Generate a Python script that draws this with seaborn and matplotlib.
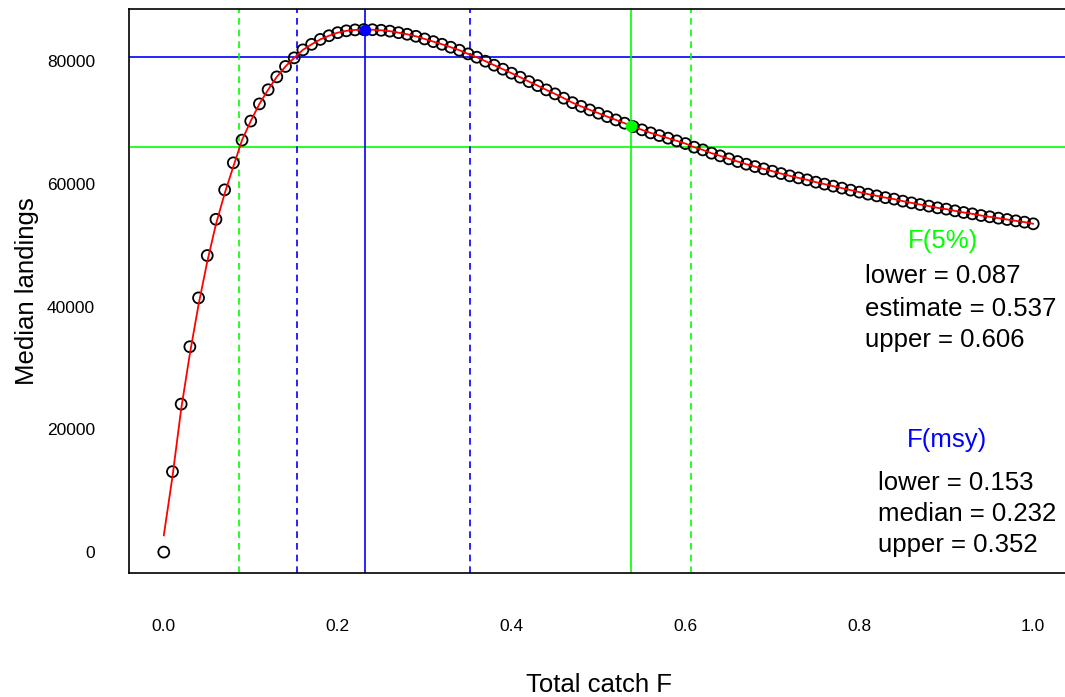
import numpy as np
import pandas as pd
import matplotlib
matplotlib.use("Agg")
import matplotlib.pyplot as plt
import seaborn as sns

# ---------------- data ----------------
f_grid = np.round(np.arange(101) * 0.01, 2)   # Total catch F: 0.00 .. 1.00

landings = [
    0, 13100, 24100, 33450, 41400, 48300, 54200, 59000, 63400, 67100,
    70200, 73000, 75300, 77400, 79100, 80500, 81800, 82700, 83500, 84100,
    84600, 84900, 85050, 85100, 85080, 84990, 84850, 84600, 84340, 84010,
    83580, 83140, 82710, 82230, 81740, 81140, 80600, 79950, 79300, 78650,
    78000, 77340, 76630, 75980, 75280, 74630, 73930, 73200, 72600, 72020,
    71480, 70930, 70390, 69860, 69300, 68770, 68280, 67840, 67420, 66980,
    66540, 65950, 65510, 64970, 64530, 64050, 63610, 63180, 62790, 62420,
    62040, 61650, 61280, 60950, 60630, 60250, 59930, 59600, 59280, 58950,
    58630, 58300, 58020, 57730, 57490, 57160, 56880, 56610, 56350, 56070,
    55860, 55580, 55310, 55090, 54820, 54610, 54390, 54170, 53950, 53740,
    53470,
]
# smoothed fit (red line) differs from the points only at the low end
fit_start = [2700, 12300, 23300, 32300, 40300, 47300, 53400, 58400, 62800]
fit_landings = fit_start + landings[len(fit_start):]

fmsy_lower, fmsy_median, fmsy_upper = 0.153, 0.232, 0.352
fmsy_landings = 85100
msy_band_landings = 80700
f5_lower, f5_estimate, f5_upper = 0.087, 0.537, 0.606
f5_landings = 69450
f5_band_landings = 65900

x_ticks = [0.0, 0.2, 0.4, 0.6, 0.8, 1.0]
x_tick_labels = ["0.0", "0.2", "0.4", "0.6", "0.8", "1.0"]
y_ticks = [0, 20000, 40000, 60000, 80000]
y_tick_labels = ["0", "20000", "40000", "60000", "80000"]

df = pd.DataFrame({"F": f_grid, "landings": landings, "fit": fit_landings})

# ---------------- style ----------------
sns.set_theme(style="white")
plt.rcParams["font.family"] = ["Liberation Sans", "DejaVu Sans"]
plt.rcParams["text.color"] = "black"
plt.rcParams["axes.labelcolor"] = "black"
plt.rcParams["xtick.color"] = "black"
plt.rcParams["ytick.color"] = "black"

BLUE = "#0000FF"
GREEN = "#00FF00"
RED = "#FF0000"
DASH = (0, (4, 3))
LW = 1.2

fig = plt.figure(figsize=(10.65, 6.97), dpi=100)
ax = fig.add_axes([129 / 1065, 1 - 573 / 697, (1068 - 129) / 1065, (573 - 8.7) / 697])

# open circles
sns.scatterplot(data=df, x="F", y="landings", ax=ax, marker="o", s=62,
                facecolors="none", edgecolor="black", linewidth=1.3, zorder=3)
# smooth fit
sns.lineplot(data=df, x="F", y="fit", ax=ax, color=RED, linewidth=1.3, zorder=4)

# reference lines
ax.axhline(msy_band_landings, color=BLUE, lw=LW, zorder=2)
ax.axhline(f5_band_landings, color=GREEN, lw=LW, zorder=2)
ax.axvline(fmsy_median, color=BLUE, lw=LW, zorder=2)
ax.axvline(fmsy_lower, color=BLUE, lw=LW, ls=DASH, zorder=2)
ax.axvline(fmsy_upper, color=BLUE, lw=LW, ls=DASH, zorder=2)
ax.axvline(f5_estimate, color=GREEN, lw=LW, zorder=2)
ax.axvline(f5_lower, color=GREEN, lw=LW, ls=DASH, zorder=2)
ax.axvline(f5_upper, color=GREEN, lw=LW, ls=DASH, zorder=2)

# highlighted points
sns.scatterplot(x=[fmsy_median], y=[fmsy_landings], ax=ax, color=BLUE, s=70,
                edgecolor=BLUE, linewidth=0, zorder=5)
sns.scatterplot(x=[f5_estimate], y=[f5_landings], ax=ax, color=GREEN, s=70,
                edgecolor=GREEN, linewidth=0, zorder=5)

# limits (R style 4% extension)
xr = f_grid.max() - f_grid.min()
ax.set_xlim(f_grid.min() - 0.04 * xr, f_grid.max() + 0.04 * xr)
yr = max(landings) - min(landings)
ax.set_ylim(min(landings) - 0.04 * yr, max(landings) + 0.04 * yr)

ax.set_xticks(x_ticks)
ax.set_xticklabels(x_tick_labels)
ax.set_yticks(y_ticks)
ax.set_yticklabels(y_tick_labels)
ax.tick_params(axis="x", direction="in", length=6.2, width=1.0, pad=33,
               labelsize=12.5, colors="black")
ax.tick_params(axis="y", direction="out", length=6.5, width=1.0, pad=18,
               labelsize=12.5, colors="black")

ax.set_xlabel("Total catch F", fontsize=18.5, color="black")
ax.set_ylabel("Median landings", fontsize=18.5, color="black")
ax.xaxis.set_label_coords(0.5, (573 - 685) / 564.3)
ax.xaxis.label.set_verticalalignment("center")
ax.yaxis.set_label_coords((27 - 129) / 939, 0.5)
ax.yaxis.label.set_verticalalignment("center")

for side in ["left", "bottom", "top", "right"]:
    ax.spines[side].set_visible(True)
    ax.spines[side].set_color("black")
    ax.spines[side].set_linewidth(1.2)

# annotations
ax.text(0.8966, 50700, "F(5%)", color=GREEN, fontsize=18.5, ha="center", va="center")
ax.text(0.8069, 45000, f"lower = {f5_lower:.3f}", fontsize=18.5, ha="left", va="center", color="black")
ax.text(0.8069, 39630, f"estimate = {f5_estimate:.3f}", fontsize=18.5, ha="left", va="center", color="black")
ax.text(0.8069, 34590, f"upper = {f5_upper:.3f}", fontsize=18.5, ha="left", va="center", color="black")

ax.text(0.9011, 18310, "F(msy)", color=BLUE, fontsize=18.5, ha="center", va="center")
ax.text(0.8218, 11310, f"lower = {fmsy_lower:.3f}", fontsize=18.5, ha="left", va="center", color="black")
ax.text(0.8218, 6270, f"median = {fmsy_median:.3f}", fontsize=18.5, ha="left", va="center", color="black")
ax.text(0.8218, 1220, f"upper = {fmsy_upper:.3f}", fontsize=18.5, ha="left", va="center", color="black")

fig.savefig("out.png", dpi=100)
